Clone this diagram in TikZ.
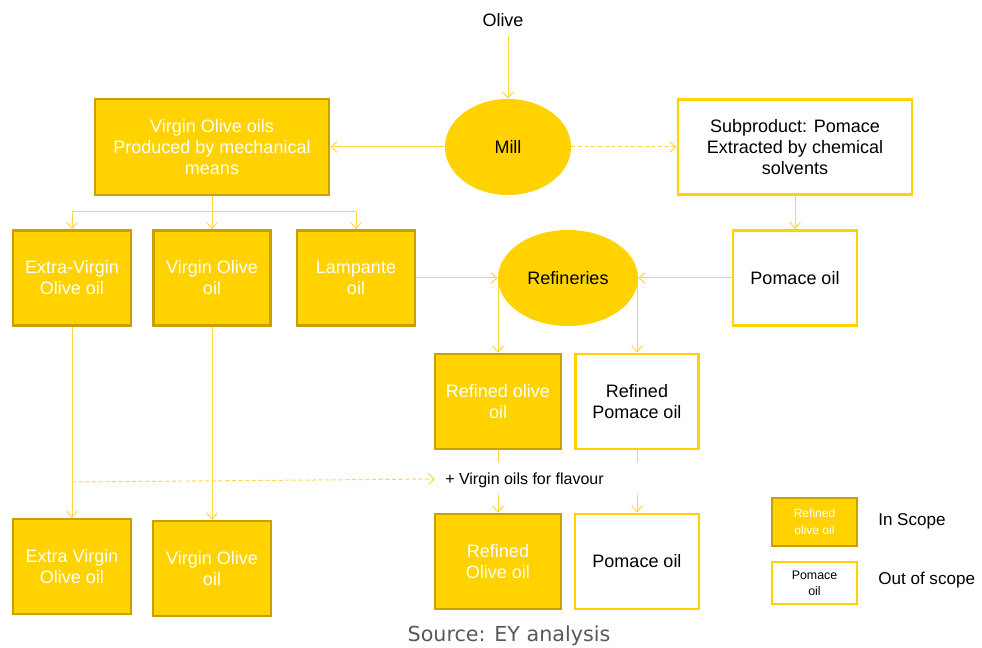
\documentclass[tikz,border=0pt]{standalone}
\usepackage{fontspec}
\setmainfont{Liberation Sans}
\newfontfamily\srcfont{DejaVu Sans}
\usetikzlibrary{arrows.meta,shapes.geometric,backgrounds}
\definecolor{gold}{RGB}{255,210,0}
\definecolor{goldedge}{RGB}{200,160,0}
\definecolor{linecol}{RGB}{255,214,70}
\definecolor{srcgray}{RGB}{89,89,89}
\tikzset{
  mainfont/.style={font=\fontsize{13.5}{15.75}\selectfont},
  inbox/.style={rectangle, fill=gold, draw=goldedge, line width=1.8pt, text=white, align=center, inner sep=0pt, mainfont},
  outbox/.style={rectangle, fill=white, draw=gold, line width=2pt, text=black, align=center, inner sep=0pt, mainfont},
  blob/.style={ellipse, fill=gold, text=black, inner sep=0pt, mainfont},
  conn/.style={draw=linecol, line width=0.75pt},
  arr/.style={conn, -{Straight Barb[length=4.5pt,width=8pt]}},
  dasharr/.style={arr, dash pattern=on 3pt off 2pt},
  lbl/.style={inner sep=0pt, text=black, align=center},
}
\begin{document}
\begin{tikzpicture}[x=0.75pt, y=-0.75pt]
\useasboundingbox (0,0) rectangle (982,648);
% nodes
\node[lbl, mainfont] (olive) at (503,20) {Olive};
\node[blob, minimum width=94.5pt, minimum height=72pt] (mill) at (508,147) {Mill};
\node[inbox, minimum width=175.5pt, minimum height=72pt] (vo) at (212,147) {Virgin Olive oils\\Produced by mechanical\\means};
\node[outbox, minimum width=175.5pt, minimum height=71.25pt] (sub) at (795,147) {Subproduct: Pomace\\Extracted by chemical\\solvents};
\node[outbox, minimum width=93pt, minimum height=71.25pt] (pom) at (795,278) {Pomace oil};
\node[blob, minimum width=105pt, minimum height=72pt] (ref) at (568,278) {Refineries};
\node[inbox, minimum width=88.5pt, minimum height=71.25pt] (ev) at (72,278) {Extra-Virgin\\Olive oil};
\node[inbox, minimum width=88pt, minimum height=71.25pt] (vol) at (212,278) {Virgin Olive\\oil};
\node[inbox, minimum width=88.5pt, minimum height=71.25pt] (lam) at (356,278) {Lampante\\oil};
\node[inbox, minimum width=94.5pt, minimum height=71.25pt] (ro) at (498,401.5) {Refined olive\\oil};
\node[outbox, minimum width=92.25pt, minimum height=71.25pt] (rp) at (637,401.5) {Refined\\Pomace oil};
\node[inbox, minimum width=94.5pt, minimum height=71.25pt] (ro2) at (498,561.5) {Refined\\Olive oil};
\node[outbox, minimum width=93pt, minimum height=71.25pt] (pom2) at (637,561.5) {Pomace oil};
\node[inbox, minimum width=88.5pt, minimum height=71.25pt] (ev2) at (72,566.5) {Extra Virgin\\Olive oil};
\node[inbox, minimum width=88.5pt, minimum height=71.25pt] (vo2) at (212,568.5) {Virgin Olive\\oil};
\node[lbl, anchor=west, font=\fontsize{12}{14}\selectfont] (flav) at (445,480) {+ Virgin oils for flavour};
% legend
\node[inbox, minimum width=63.75pt, minimum height=36pt, font=\fontsize{9}{12.75}\selectfont] (leg1) at (814.5,522) {Refined\\olive oil};
\node[outbox, minimum width=63.75pt, minimum height=31.5pt, font=\fontsize{9.3}{12}\selectfont] (leg2) at (814.5,583) {Pomace\\oil};
\node[lbl, anchor=west, font=\fontsize{12.8}{14}\selectfont] (insc) at (878,521) {In Scope};
\node[lbl, anchor=west, font=\fontsize{12.8}{14}\selectfont] (outsc) at (878,580) {Out of scope};
\node[lbl, text=srcgray, font=\srcfont\fontsize{15.5}{18}\selectfont] (src) at (509,636) {Source: EY analysis};
% helper coordinates
\coordinate (top) at (508,36);
\coordinate (fork) at (212,212);
\coordinate (dstart) at (72,482);
\coordinate (dend) at (435,479);
\coordinate (ga) at (498,462);
\coordinate (gb) at (498,495);
\coordinate (gc) at (637,462);
\coordinate (gd) at (637,495);
% connectors
\begin{scope}[on background layer]
\fill[white] (0,0) rectangle (982,648);
\draw[arr] (top) -- (mill.north);
\draw[arr] (mill.west) -- (vo.east);
\draw[dasharr] (mill.east) -- (sub.west);
\draw[arr] (sub.south) -- (pom.north);
\draw[arr] (pom.west) -- (ref.east);
\draw[arr] (lam.east) -- (ref.west);
\draw[conn] (vo.south) -- (fork);
\draw[arr] (fork) -| (ev.north);
\draw[arr] (fork) -- (vol.north);
\draw[arr] (fork) -| (lam.north);
\draw[arr] (ro.north |- ref.center) -- (ro.north);
\draw[arr] (rp.north |- ref.center) -- (rp.north);
\draw[arr] (ev.south) -- (ev2.north);
\draw[arr] (vol.south) -- (vo2.north);
\draw[dasharr] (dstart) -- (dend);
\draw[conn] (ro.south) -- (ga);
\draw[arr] (gb) -- (ro2.north);
\draw[conn] (rp.south) -- (gc);
\draw[arr] (gd) -- (pom2.north);
\end{scope}
\end{tikzpicture}
\end{document}
